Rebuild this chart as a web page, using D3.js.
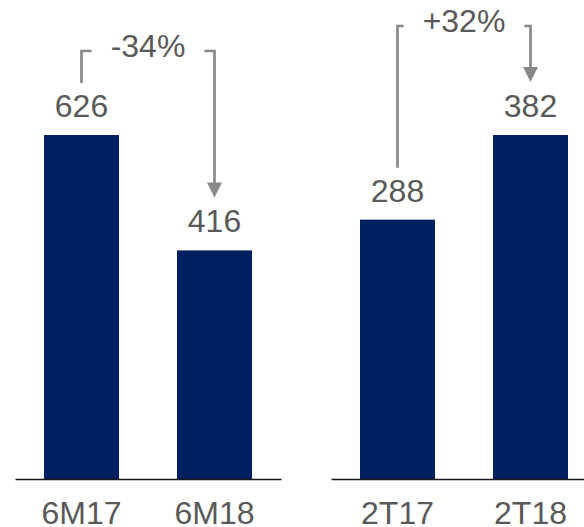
<!DOCTYPE html>
<html>
<head>
<meta charset="utf-8">
<script src="https://cdn.jsdelivr.net/npm/d3@7"></script>
<style>
  html, body { margin: 0; padding: 0; background: #ffffff; }
  svg { display: block; }
</style>
</head>
<body>
<script>
// Half-year comparison (left) and quarter comparison (right)
const halfCategories = ["6M17", "6M18"];
const halfValues = [626, 416];
const halfChange = "-34%";

const quarterCategories = ["2T17", "2T18"];
const quarterValues = [288, 382];
const quarterChange = "+32%";

const W = 584, H = 527;
const baseline = 479;
const topY = 135;
const barColor = "#002060";
const textColor = "#595959";
const arrowColor = "#898989";
const font = "'Liberation Sans', Arial, sans-serif";
const fontSize = 32;

const svg = d3.select("body").append("svg")
  .attr("width", W).attr("height", H)
  .style("font-family", font);

function panel(categories, values, change, x0, x1, bracketY) {
  const g = svg.append("g");

  const x = d3.scaleBand()
    .domain(categories)
    .range([x0, x1])
    .paddingInner(0.436)
    .paddingOuter(0.218);

  const y = d3.scaleLinear()
    .domain([0, d3.max(values)])
    .range([baseline, topY]);

  const data = categories.map((c, i) => ({ c, v: values[i] }));

  g.selectAll("rect.bar").data(data).join("rect")
    .attr("class", "bar")
    .attr("x", d => x(d.c))
    .attr("width", x.bandwidth())
    .attr("y", d => y(d.v))
    .attr("height", d => baseline - y(d.v))
    .attr("fill", barColor);

  g.selectAll("text.val").data(data).join("text")
    .attr("class", "val")
    .attr("x", d => x(d.c) + x.bandwidth() / 2)
    .attr("y", d => y(d.v) - 18)
    .attr("text-anchor", "middle")
    .attr("font-size", fontSize)
    .attr("fill", textColor)
    .text(d => d.v);

  const axis = d3.axisBottom(x).tickSize(0).tickSizeOuter(0).tickPadding(22);
  const ax = g.append("g")
    .attr("transform", `translate(0,${baseline})`)
    .call(axis);
  ax.select(".domain").attr("stroke", "#1a1a1a").attr("stroke-width", 1.6);
  ax.selectAll(".tick text")
    .attr("font-size", fontSize)
    .attr("font-family", font)
    .attr("fill", textColor);

  // change annotation: bracket from first label to an arrow above the second
  const cx0 = x(categories[0]) + x.bandwidth() / 2;
  const cx1 = x(categories[1]) + x.bandwidth() / 2;
  const mid = (cx0 + cx1) / 2;

  const label = g.append("text")
    .attr("x", mid)
    .attr("y", bracketY + 6)
    .attr("text-anchor", "middle")
    .attr("font-size", fontSize)
    .attr("fill", textColor)
    .text(change);
  const bb = label.node().getBBox();
  const gap = 19;
  const tipY = y(values[1]) - 53;
  const head = 15;

  g.append("path")
    .attr("d", `M${cx0},${y(values[0]) - 52} V${bracketY} H${bb.x - gap}`)
    .attr("fill", "none")
    .attr("stroke", arrowColor)
    .attr("stroke-width", 2.7);

  g.append("path")
    .attr("d", `M${bb.x + bb.width + gap},${bracketY} H${cx1} V${tipY - head + 1}`)
    .attr("fill", "none")
    .attr("stroke", arrowColor)
    .attr("stroke-width", 2.7);

  g.append("path")
    .attr("d", `M${cx1 - head / 2},${tipY - head} L${cx1 + head / 2},${tipY - head} L${cx1},${tipY} Z`)
    .attr("fill", arrowColor);
}

panel(halfCategories, halfValues, halfChange, 15, 281, 51);
panel(quarterCategories, quarterValues, quarterChange, 331, 597, 26);
</script>
</body>
</html>
